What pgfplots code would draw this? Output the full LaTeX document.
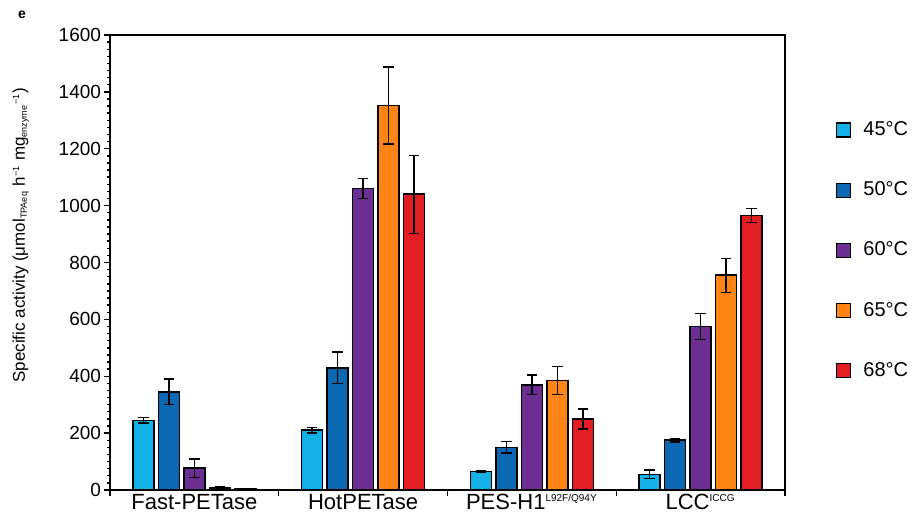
\documentclass[border=0pt]{standalone}
\usepackage{fontspec}
\setmainfont{Liberation Sans}
\usepackage{pgfplots}
\pgfplotsset{compat=1.18}

\definecolor{c45}{RGB}{20,176,232}
\definecolor{c50}{RGB}{12,104,178}
\definecolor{c60}{RGB}{108,46,146}
\definecolor{c65}{RGB}{255,132,22}
\definecolor{c68}{RGB}{226,30,36}

% specific activity per enzyme (0 Fast-PETase, 1 HotPETase, 2 PES-H1, 3 LCC), mean and error
\pgfplotstableread{
x y e
0 245 10
1 210 10
2 65 3
3 55 15
}\tA
\pgfplotstableread{
x y e
0 345 45
1 430 55
2 150 20
3 175 6
}\tB
\pgfplotstableread{
x y e
0 77 32
1 1060 35
2 370 35
3 575 45
}\tC
\pgfplotstableread{
x y e
0 8 3
1 1352 135
2 385 50
3 755 60
}\tD
\pgfplotstableread{
x y e
0 3 1
1 1040 137
2 250 35
3 965 25
}\tE

\begin{document}
\begin{tikzpicture}
\useasboundingbox (0,0) rectangle (459.5pt,264.5pt);
\node[font=\bfseries\fontsize{7}{8}\selectfont] at (11pt,257pt) {e};
\begin{axis}[
  at={(55pt,19.5pt)}, anchor=south west,
  scale only axis, width=337.5pt, height=227.5pt,
  xmin=-0.5, xmax=3.5, ymin=0, ymax=1600,
  ybar=2.25pt, bar width=10.5pt,
  axis line style={line width=1pt},
  tick align=outside, tick pos=left,
  every tick/.style={black, line width=0.7pt},
  major tick length=2.8pt, minor tick length=1.6pt,
  ytick={0,200,...,1600}, minor y tick num=7,
  /pgf/number format/assume math mode=true,
  /pgf/number format/1000 sep={},
  yticklabel style={font=\fontsize{9.5}{10}\selectfont, inner sep=1.5pt},
  xtick={-0.5,0.5,1.5,2.5,3.5}, xticklabels={},
  extra x ticks={0,1,2,3},
  extra x tick labels={Fast-PETase, HotPETase, PES-H1\textsuperscript{\fontsize{5}{5}\selectfont L92F/Q94Y}, LCC\textsuperscript{\fontsize{5}{5}\selectfont ICCG}},
  extra x tick style={major tick length=0pt, tick label style={font=\fontsize{11}{12}\selectfont, inner sep=2pt}},
  ylabel={Specific activity (μmol\textsubscript{\fontsize{4.5}{5}\selectfont TPAeq} h\textsuperscript{\fontsize{4.5}{5}\selectfont −1} mg\textsubscript{\fontsize{4.5}{5}\selectfont enzyme}\textsuperscript{\fontsize{4.5}{5}\selectfont −1})},
  ylabel style={font=\fontsize{8.5}{9}\selectfont, at={(ticklabel cs:0.56,10pt)}},
  legend style={draw=none, fill=none, at={(rel axis cs:1.075,0.815)}, anchor=north west,
    inner sep=0pt, row sep=19.6pt, column sep=5pt, font=\fontsize{10}{11}\selectfont,
    nodes={inner sep=1pt}},
  legend cell align=left,
  legend image code/.code={\draw[#1, draw=black, line width=0.7pt] (0pt,-3.5pt) rectangle (7pt,3.5pt);},
  error bars/y dir=both, error bars/y explicit,
  error bars/error bar style={black, line width=0.7pt},
  error bars/error mark options={black, rotate=90, mark size=2.6pt, line width=0.7pt},
]
\addplot[fill=c45, draw=black, line width=0.8pt] table[x=x, y=y, y error=e] {\tA};
\addplot[fill=c50, draw=black, line width=0.8pt] table[x=x, y=y, y error=e] {\tB};
\addplot[fill=c60, draw=black, line width=0.8pt] table[x=x, y=y, y error=e] {\tC};
\addplot[fill=c65, draw=black, line width=0.8pt] table[x=x, y=y, y error=e] {\tD};
\addplot[fill=c68, draw=black, line width=0.8pt] table[x=x, y=y, y error=e] {\tE};
\legend{45°C, 50°C, 60°C, 65°C, 68°C}
\end{axis}
\end{tikzpicture}
\end{document}
